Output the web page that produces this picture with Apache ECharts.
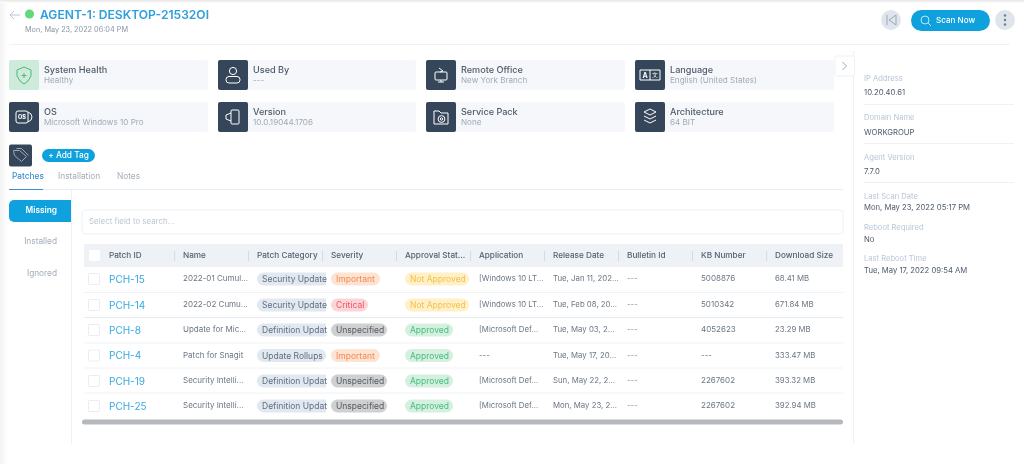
<!DOCTYPE html>
<html><head><meta charset="utf-8">
<style>html,body{margin:0;padding:0;background:#fff}#c{width:1024px;height:464px;filter:blur(0.4px)}</style>
<script src="https://cdn.jsdelivr.net/npm/echarts@6/dist/echarts.min.js"></script>
</head><body><div id="c"></div>
<script>
const titleText = 'AGENT-1: DESKTOP-21532OI';
const dateText = 'Mon, May 23, 2022 06:04 PM';
const cardLabels = ['System Health','Used By','Remote Office','Language','OS','Version','Service Pack','Architecture'];
const cardValues = ['Healthy','---','New York Branch','English (United States)','Microsoft Windows 10 Pro','10.0.19044.1706','None','64 BIT'];
const tabs = ['Patches','Installation','Notes'];
const sideTabs = ['Missing','Installed','Ignored'];
const headers = ['Patch ID','Name','Patch Category','Severity','Approval Stat...','Application','Release Date','Bulletin Id','KB Number','Download Size'];
const patchIds = ['PCH-15','PCH-14','PCH-8','PCH-4','PCH-19','PCH-25'];
const patchNames = ['2022-01 Cumul...','2022-02 Cumu...','Update for Mic...','Patch for Snagit','Security Intelli...','Security Intelli...'];
const patchCategories = ['Security Update','Security Update','Definition Updat','Update Rollups','Definition Updat','Definition Updat'];
const severities = ['Important','Critical','Unspecified','Important','Unspecified','Unspecified'];
const approvals = ['Not Approved','Not Approved','Approved','Approved','Approved','Approved'];
const applications = ['[Windows 10 LT...','[Windows 10 LT...','[Microsoft Def...','---','[Microsoft Def...','[Microsoft Def...'];
const releaseDates = ['Tue, Jan 11, 202...','Tue, Feb 08, 20...','Tue, May 03, 2...','Tue, May 17, 20...','Sun, May 22, 2...','Mon, May 23, 2...'];
const bulletinIds = ['---','---','---','---','---','---'];
const kbNumbers = ['5008876','5010342','4052623','---','2267602','2267602'];
const downloadSizes = ['68.41 MB','671.84 MB','23.29 MB','333.47 MB','393.32 MB','392.94 MB'];
const sideLabels = ['IP Address','Domain Name','Agent Version','Last Scan Date','Reboot Required','Last Reboot Time'];
const sideValues = ['10.20.40.61','WORKGROUP','7.7.0','Mon, May 23, 2022 05:17 PM','No','Tue, May 17, 2022 09:54 AM'];

const FF = 'Inter, "Open Sans", sans-serif';
const BLUE = '#0ea1dd', DARK = '#36465a';
const g = [];
const R = (x,y,w,h,fill,r,stroke) => g.push({type:'rect',silent:true,shape:{x,y,width:w,height:h,r:r||0},style:{fill:fill||'none',stroke:stroke||null,lineWidth:stroke?1:0}});
const T = (x,y,text,size,fill,weight,align) => g.push({type:'text',silent:true,style:{x,y,text,fontSize:size,fontFamily:FF,fontWeight:weight||400,fill,align:align||'left',verticalAlign:'middle'}});
const L = (x1,y1,x2,y2,stroke,w) => g.push({type:'line',silent:true,shape:{x1,y1,x2,y2},style:{stroke,lineWidth:w||1}});
const C = (cx,cy,r,fill,stroke) => g.push({type:'circle',silent:true,shape:{cx,cy,r},style:{fill:fill||'none',stroke:stroke||null,lineWidth:stroke?1:0}});
const P = (lines,x,y,stroke) => lines.forEach(pts=>g.push({type:'polyline',silent:true,shape:{points:pts.map(p=>[p[0]+x,p[1]+y])},style:{stroke:stroke||'#fff',fill:'none',lineWidth:1}}));

// page edges
g.push({type:'rect',silent:true,shape:{x:0,y:0,width:8,height:464},style:{fill:{type:'linear',x:0,y:0,x2:1,y2:0,colorStops:[{offset:0,color:'#f3f3f3'},{offset:1,color:'#ffffff'}]}}});
g.push({type:'rect',silent:true,shape:{x:0,y:0,width:1024,height:3},style:{fill:{type:'linear',x:0,y:0,x2:0,y2:1,colorStops:[{offset:0,color:'#e6e6e6'},{offset:1,color:'#ffffff'}]}}});

// header
P([[[20,15],[10,15]],[[14,11],[10,15],[14,19]]],0,0,'#b5c6d8');
C(29.5,14,4.5,'#5fd97a');
T(40,15,titleText,12.1,'#2f9fdc',600);
T(25,29.5,dateText,7.3,'#8b96a6');
L(9,44.5,1010,44.5,'#eef1f5');
C(891,20,10,'#dfe5ec');
P([[[887,15],[887,25]],[[896,15],[889,20],[896,25],[896,15]]],0,0,'#9aa8b8');
R(911,10,79,21,BLUE,10.5);
C(925,20,4,null,'#bfe6f7'); L(928,23,931,26,'#bfe6f7');
T(936,20.5,'Scan Now',8.1,'#fff',500);
C(1005,20,10,'#dfe5ec');
[15.5,20,24.5].forEach(y=>C(1005,y,1.2,'#6d7c8e'));

// info cards
const cardX = [9,218,426,635], cardW = [199,198,199,199], cardY = [60,102];
const icons = [
  (x,y)=>{P([[[0,-8],[7,-5],[7,1],[4,6],[0,9],[-4,6],[-7,1],[-7,-5],[0,-8]],[[0,-2],[0,3]],[[-2.5,.5],[2.5,.5]]],x,y,'#4cb97a');},
  (x,y)=>{C(x,y-4,3.6,null,'#fff');R(x-7,y+1.5,14,6.5,null,3,'#fff');},
  (x,y)=>{R(x-6,y-3,12,8,null,1,'#fff');L(x-3,y+7,x+3,y+7,'#fff');L(x,y+5,x,y+7,'#fff');P([[[-2,-7],[2,-4],[-1,-3]]],x,y);},
  (x,y)=>{R(x-10,y-5,20,10,null,0,'#fff');L(x,y-5,x,y+5,'#fff');T(x-5,y+.5,'A',7,'#fff',700,'center');T(x+5,y+.5,'文',6,'#fff',400,'center');},
  (x,y)=>{R(x-8,y-6,12,12,null,2,'#fff');P([[[4,-5],[7,-3],[8,0],[7,3],[4,5]]],x,y);T(x-2,y+.5,'OS',5.5,'#fff',800,'center');},
  (x,y)=>{R(x-2,y-7,8,14,null,1,'#fff');P([[[-2,-4],[-7,-2],[-7,2],[-2,4]]],x,y);},
  (x,y)=>{P([[[-7,7],[-7,-6],[-2,-6],[0,-4],[7,-4],[7,7],[-7,7]]],x,y);C(x+.5,y+2,3.4,null,'#fff');C(x+.5,y+2,1.2,null,'#fff');},
  (x,y)=>{P([[[0,-8],[6,-5],[0,-2],[-6,-5],[0,-8]],[[-6,-1],[0,2],[6,-1]],[[-6,3],[0,6],[6,3]]],x,y);}
];
cardLabels.forEach((lab,i)=>{
  const x = cardX[i%4], y = cardY[i<4?0:1], w = cardW[i%4];
  R(x,y,w,30,'#f5f7fa',2);
  R(x,y,30,30,i===0?'#cdeadb':DARK,2);
  icons[i](x+15,y+15);
  T(x+35,y+10,lab,9.1,'#4e5a6b',500);
  T(x+35,y+20.5,cardValues[i],8.1,'#a0abb9');
});

// collapse handle + side panel
L(853.5,51,853.5,444,'#eef1f5');
R(835,56,19.5,20,'#fff',2,'#eef1f5');
P([[[842.5,62],[846.5,66],[842.5,70]]],0,0,'#9aa8b8');
const sideLabelY = [78,117,157,196,227,258], sideValueY = [92,132,171,207,239,270];
sideLabels.forEach((lab,i)=>{
  T(864,sideLabelY[i]+.5,lab,7.6,'#b9c6d8');
  T(864,sideValueY[i]+.5,sideValues[i],7.7,'#4e5a6b');
});
[104.5,143.5,182.5].forEach(y=>L(864,y,1014,y,'#eef1f5'));

// tag row
R(9,144.5,23,22,DARK,2);
P([[[-7,-5],[-1,-5],[6,1],[1,6],[-6,0],[-7,-5]],[[-4,-7],[1,-7],[8,0]]],20.5,155.5,'#9aa8b8');
R(42,149,53,13,BLUE,6.5);
T(68.5,155.5,'+ Add Tag',8.3,'#fff',500,'center');

// tabs
const tabX = [12,58,117];
tabs.forEach((t,i)=>T(tabX[i],177,t,8.3,i===0?'#3a8fd4':'#a3adba',i===0?500:400));
L(9,189.5,843,189.5,'#e8edf3');
L(9,189.5,43,189.5,'#3a8fd4',1.2);

// side tabs
L(71.5,190,71.5,444,'#eef1f5');
R(9,200,62,22,BLUE,[5,0,0,5]);
const sideTabY = [210.5,242,274];
sideTabs.forEach((t,i)=>T(57,sideTabY[i],t,8.3,i===0?'#fff':'#a3adba',i===0?600:400,'right'));

// search
R(82,210,761,24,'#fff',3,'#eef1f5');
T(89,222,'Select field to search...',7.9,'#bcc6d3');

// table
const colX = [109,183,257,331,405,479,553,627,701,775];
const rowY = [279,305,330,355.5,381,406];
R(84,244,759,23,'#eef1f6');
R(89,250,11,11,'#fff',1);
headers.forEach((h,i)=>{
  T(colX[i],255.5,h,8.2,'#56626f',500);
  if(i<9) L(colX[i+1]-8.5,251,colX[i+1]-8.5,261,'#d3dbe5');
});
[292.5,317.5,343,368,393].forEach((y,i)=>L(84,y,843,y,i===1?'#e6ebf2':'#eff2f6'));
const sevStyle = {Important:['#fde3d3','#f58a4b',49],Critical:['#fcd5d8','#f0525c',37],Unspecified:['#cfd0d2','#555a60',56]};
const appStyle = {'Not Approved':['#fff0c8','#f5c04a',64],Approved:['#d5f0e0','#45bd7c',48]};
patchIds.forEach((id,r)=>{
  const y = rowY[r];
  R(88.5,y-5.5,11,11,'#fff',1,'#eaeef3');
  T(colX[0],y+.5,id,10,'#35a8e2');
  T(colX[1],y,patchNames[r],8,'#6b7684');
  const clipped = patchCategories[r] !== 'Update Rollups';
  R(colX[2],y-6.5,69,13,'#e2e8f0',clipped?[6.5,0,0,6.5]:6.5);
  T(colX[2]+5,y+.5,patchCategories[r],8.5,'#5f6e80');
  const s = sevStyle[severities[r]];
  R(colX[3],y-6.5,s[2],13,s[0],6.5);
  T(colX[3]+5,y+.5,severities[r],8.5,s[1]);
  const a = appStyle[approvals[r]];
  R(colX[4],y-6.5,a[2],13,a[0],6.5);
  T(colX[4]+5,y+.5,approvals[r],8.5,a[1]);
  T(colX[5],y,applications[r],7.8,'#6b7684');
  T(colX[6],y,releaseDates[r],7.8,'#6b7684');
  T(colX[7],y,bulletinIds[r],7.8,'#8b96a6');
  T(colX[8],y,kbNumbers[r],8,'#6b7684');
  T(colX[9],y,downloadSizes[r],7.8,'#6b7684');
});
R(82,419.5,761,5,'#b5b8bd',2.5);

const chart = echarts.init(document.getElementById('c'),null,{renderer:'canvas',width:1024,height:464});
chart.setOption({animation:false,backgroundColor:'#fff',graphic:{elements:g}});
</script></body></html>
